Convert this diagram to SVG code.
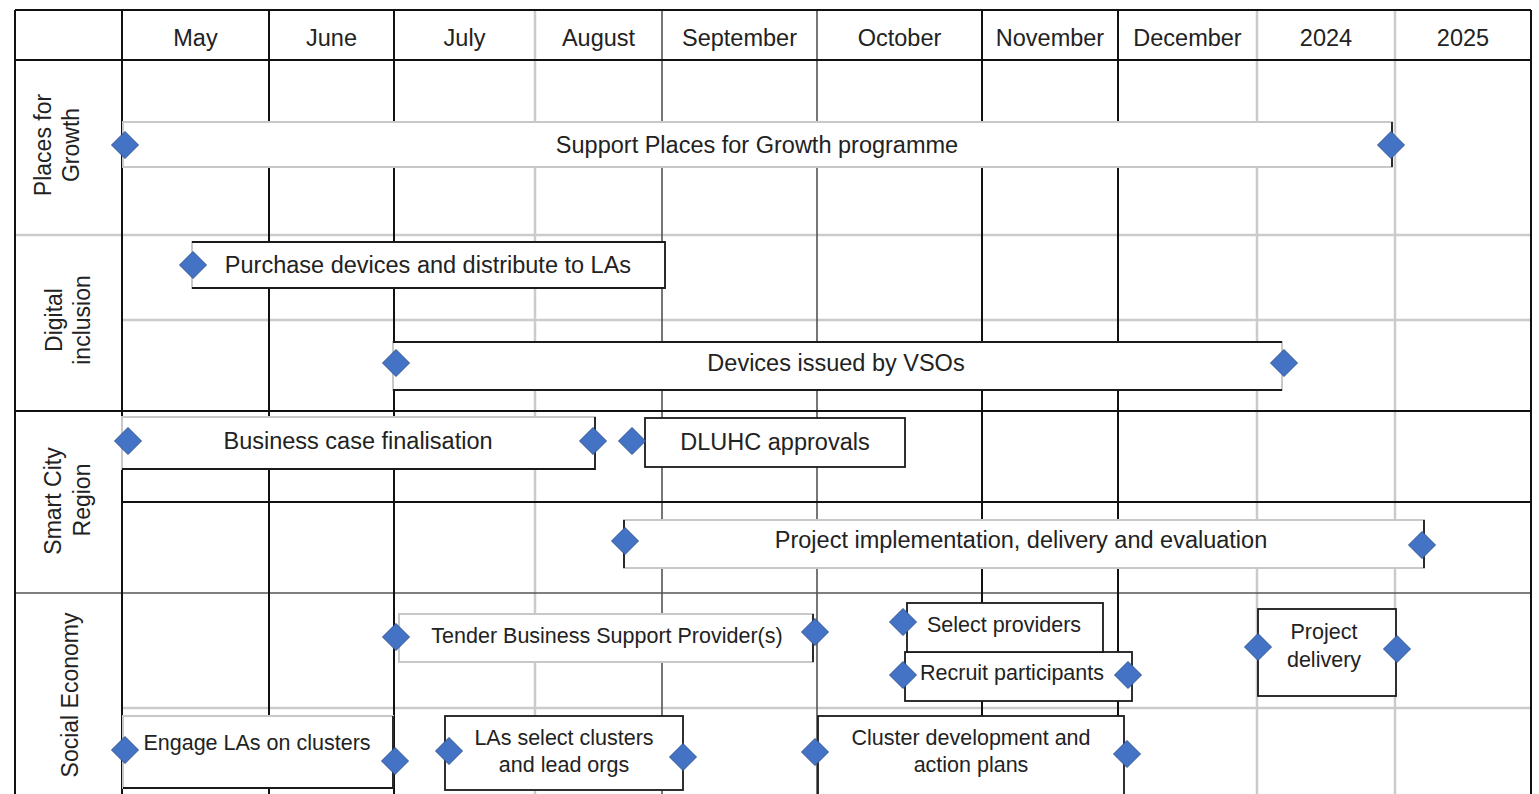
<svg xmlns="http://www.w3.org/2000/svg" width="1539" height="794" viewBox="0 0 1539 794">
<style>
text{font-family:'Liberation Sans',Arial,sans-serif;fill:#222;text-anchor:middle}
.h,.t{font-size:23.5px}
.s{font-size:21.5px}
.lab{font-size:23px}
.k{stroke:#111;stroke-width:2;fill:none}
.m{stroke:#555;stroke-width:1.6;fill:none}
.g{stroke:#cbcbcb;stroke-width:2.5;fill:none}
.bk{fill:#fff;stroke:#1a1a1a;stroke-width:1.8}
.gy{fill:#fff;stroke:#c8c8c8;stroke-width:2}
.e{fill:none;stroke:#1a1a1a;stroke-width:1.8}
.dm{fill:#4472C4;stroke:#2F5597;stroke-width:1}
</style>
<defs>
<path id="d" class="dm" d="M0,-13.5L13.5,0L0,13.5L-13.5,0Z"/>
</defs>
<rect width="1539" height="794" fill="#fff"/>
<g id="grid">
<path class="g" d="M535,10V794M1257,10V794M1395,10V794M15,235H1531M122,320H1531M122,708H1531"/>
<path class="m" d="M662,10V794M817,10V794M15,593H1531"/>
<path class="k" d="M15,10V794M122,10V794M269,10V794M394,10V794M982,10V794M1118,10V794M1531,10V794M15,10H1531M15,60H1531M15,411H1531M122,502H1531"/>
</g>
<g id="header">
<text class="h" x="195.5" y="46">May</text>
<text class="h" x="331.5" y="46">June</text>
<text class="h" x="464.5" y="46">July</text>
<text class="h" x="598.5" y="46">August</text>
<text class="h" x="739.5" y="46">September</text>
<text class="h" x="899.5" y="46">October</text>
<text class="h" x="1050" y="46">November</text>
<text class="h" x="1187.5" y="46">December</text>
<text class="h" x="1326" y="46">2024</text>
<text class="h" x="1463" y="46">2025</text>
</g>
<g id="lanes">
<text class="lab" transform="translate(51,145) rotate(-90)">Places for</text>
<text class="lab" transform="translate(79,145) rotate(-90)">Growth</text>
<text class="lab" transform="translate(62,320) rotate(-90)">Digital</text>
<text class="lab" transform="translate(90,320) rotate(-90)">inclusion</text>
<text class="lab" transform="translate(61,501) rotate(-90)">Smart City</text>
<text class="lab" transform="translate(90,500) rotate(-90)">Region</text>
<text class="lab" transform="translate(78,695) rotate(-90)">Social Economy</text>
</g>
<g id="connectors"></g>
<g id="places-bar">
<rect class="gy" x="123" y="122" width="1269" height="45"/>
<path class="e" d="M1392,122V167"/>
<text class="t" x="757" y="153">Support Places for Growth programme</text>
<use href="#d" x="125" y="145"/><use href="#d" x="1391" y="145"/>
</g>
<g id="purchase">
<rect class="gy" x="192" y="242" width="473" height="46"/>
<path class="e" d="M192,242H665V288H192"/>
<text class="t" x="428" y="273">Purchase devices and distribute to LAs</text>
<use href="#d" x="193" y="265"/>
</g>
<g id="devices">
<rect class="gy" x="393" y="342" width="889" height="48"/>
<path class="e" d="M393,342H1282M393,390H1282"/>
<text class="t" x="836" y="371">Devices issued by VSOs</text>
<use href="#d" x="396" y="363"/><use href="#d" x="1284" y="363"/>
</g>
<g id="business-case">
<rect class="gy" x="122" y="417" width="473" height="52"/>
<path class="e" d="M122,469H595V417"/>
<text class="t" x="358" y="449">Business case finalisation</text>
<use href="#d" x="128" y="441"/><use href="#d" x="593" y="441"/>
</g>
<g id="dluhc">
<rect class="bk" x="645" y="418" width="260" height="49"/>
<text class="t" x="775" y="450">DLUHC approvals</text>
<use href="#d" x="632" y="441"/>
</g>
<g id="project-impl">
<rect class="gy" x="624" y="520" width="800" height="48"/>
<path class="e" d="M624,520V568M1424,520V568"/>
<text class="t" x="1021" y="548">Project implementation, delivery and evaluation</text>
<use href="#d" x="625" y="541"/><use href="#d" x="1422" y="545"/>
</g>
<g id="tender">
<rect class="gy" x="399" y="614" width="414" height="48"/>
<path class="e" d="M813,614V662"/>
<text class="s" x="607" y="643">Tender Business Support Provider(s)</text>
<use href="#d" x="396" y="637"/><use href="#d" x="815" y="632"/>
</g>
<g id="recruit">
<rect class="bk" x="905" y="652" width="227" height="49"/>
<text class="s" x="1012" y="680">Recruit participants</text>
<use href="#d" x="903" y="675"/><use href="#d" x="1128" y="675"/>
</g>
<g id="select-providers">
<rect class="bk" x="907" y="603" width="196" height="49"/>
<text class="s" x="1004" y="632">Select providers</text>
<use href="#d" x="903" y="622"/>
</g>
<g id="project-delivery">
<rect class="bk" x="1258" y="609" width="138" height="87"/>
<text class="s" x="1324" y="639">Project</text>
<text class="s" x="1324" y="667">delivery</text>
<use href="#d" x="1258" y="647"/><use href="#d" x="1397" y="649"/>
</g>
<g id="engage">
<rect class="gy" x="123" y="716" width="270" height="72"/>
<path class="e" d="M123,788H393V716"/>
<text class="s" x="257" y="750">Engage LAs on clusters</text>
<use href="#d" x="125" y="750"/><use href="#d" x="395" y="761"/>
</g>
<g id="las-select">
<rect class="bk" x="445" y="716" width="238" height="74"/>
<text class="s" x="564" y="745">LAs select clusters</text>
<text class="s" x="564" y="772">and lead orgs</text>
<use href="#d" x="449" y="751"/><use href="#d" x="683" y="757"/>
</g>
<g id="cluster-dev">
<rect class="bk" x="818" y="716" width="306" height="80"/>
<text class="s" x="971" y="745">Cluster development and</text>
<text class="s" x="971" y="772">action plans</text>
<use href="#d" x="815" y="752"/><use href="#d" x="1127" y="754"/>
</g>
</svg>
